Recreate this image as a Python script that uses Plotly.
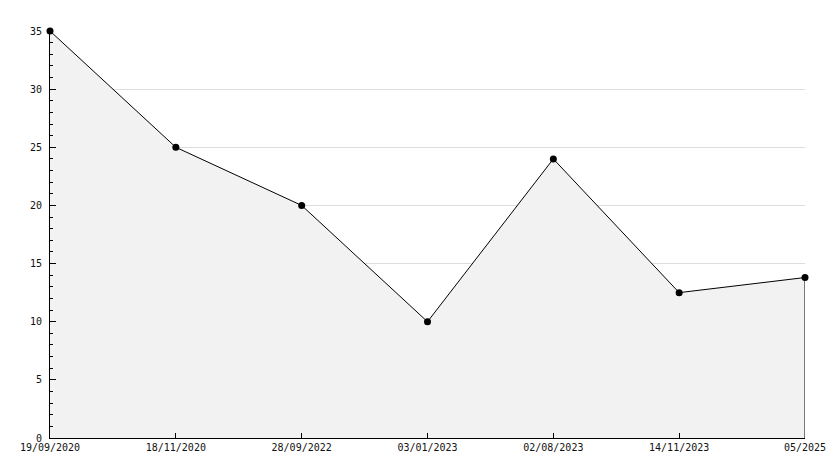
import plotly.graph_objects as go

dates = ["19/09/2020", "18/11/2020", "28/09/2022", "03/01/2023", "02/08/2023", "14/11/2023", "05/2025"]
values = [35, 25, 20, 10, 24, 12.5, 13.8]

fig = go.Figure()
fig.add_trace(go.Scatter(
    x=dates, y=values, mode="lines+markers",
    fill="tozeroy", fillcolor="#f2f2f2",
    line=dict(color="black", width=1),
    marker=dict(color="black", size=7, symbol="circle"),
    cliponaxis=False,
    hoverinfo="x+y", showlegend=False,
))
# closing edge of the filled area at the last point
fig.add_trace(go.Scatter(
    x=[dates[-1], dates[-1]], y=[values[-1], 0], mode="lines",
    line=dict(color="black", width=1), showlegend=False, hoverinfo="skip",
))

font = dict(family="DejaVu Sans Mono", size=10, color="#111111")
fig.update_layout(
    width=834, height=468,
    margin=dict(l=50, r=29, t=31, b=30),
    paper_bgcolor="white", plot_bgcolor="white",
    font=font,
    xaxis=dict(
        type="category", range=[0, len(dates) - 1], automargin=False,
        showgrid=False, showline=True, linecolor="black", linewidth=1,
        ticks="inside", ticklen=5, tickcolor="black", tickfont=font,
        zeroline=False,
    ),
    yaxis=dict(
        range=[0, 35], dtick=5, showgrid=True, gridcolor="#dddddd", gridwidth=1,
        automargin=False, ticklabelstandoff=5,
        showline=True, linecolor="black", linewidth=1,
        ticks="inside", ticklen=6, tickcolor="black", tickfont=font,
        zeroline=False,
        minor=dict(dtick=1, ticks="inside", ticklen=3, tickcolor="black", showgrid=False),
    ),
)
fig.write_html(
    "out.html",
    config={"displayModeBar": False},
    post_script="document.body.style.margin='0';document.body.style.overflow='hidden';",
)
